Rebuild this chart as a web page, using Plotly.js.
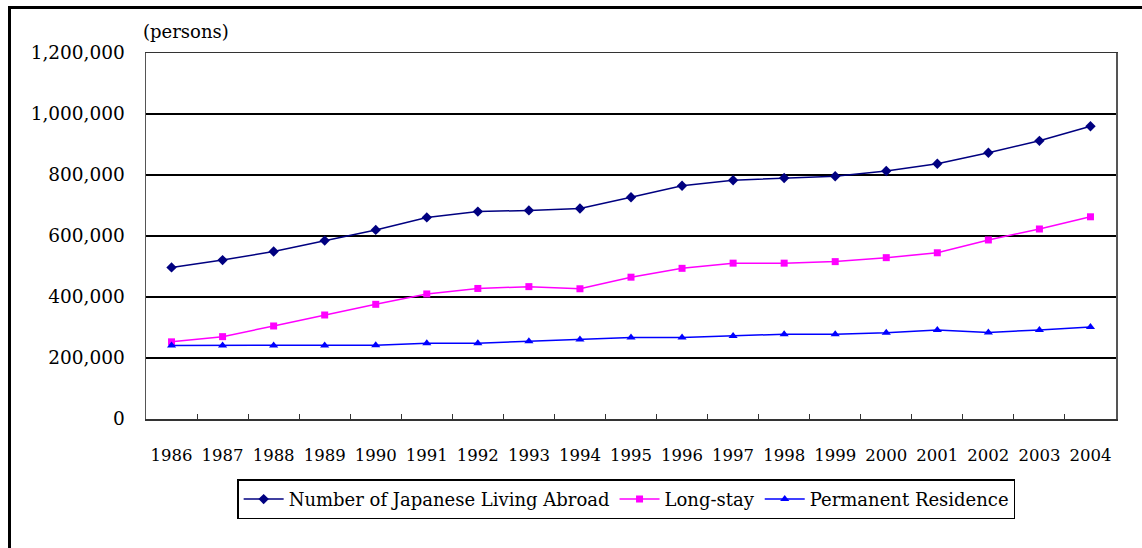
<!DOCTYPE html>
<html>
<head>
<meta charset="utf-8">
<script src="https://cdn.plot.ly/plotly-3.0.1.min.js"></script>
<style>
  html, body { margin: 0; padding: 0; background: #fff; }
  #wrap { position: relative; width: 1142px; height: 548px; overflow: hidden; }
  #chart { width: 1142px; height: 548px; }
  #frame { position: absolute; left: 8px; top: 6px; width: 1200px; height: 600px;
           border-left: 3px solid #000; border-top: 3px solid #000; pointer-events: none; }
</style>
</head>
<body>
<div id="wrap">
  <div id="chart"></div>
  <div id="frame"></div>
</div>
<script>
const years = ["1986","1987","1988","1989","1990","1991","1992","1993","1994","1995",
               "1996","1997","1998","1999","2000","2001","2002","2003","2004"];
const livingAbroad = [497000, 521000, 549000, 585000, 620000, 661000, 680000, 684000, 690000, 727000,
                      765000, 783000, 790000, 796000, 813000, 837000, 873000, 912000, 960000];
const longStay = [253000, 270000, 305000, 341000, 376000, 410000, 428000, 434000, 427000, 465000,
                  494000, 511000, 511000, 516000, 529000, 545000, 587000, 623000, 663000];
const permanent = [241000, 241000, 241000, 241000, 242000, 248000, 248000, 255000, 261000, 267000,
                   267000, 272000, 278000, 278000, 283000, 292000, 284000, 292000, 302000];
const seriesNames = ["Number of Japanese Living Abroad", "Long-stay", "Permanent Residence"];

const serif = "DejaVu Serif, Liberation Serif, serif";

const traces = [
  { x: years, y: livingAbroad, name: seriesNames[0], type: "scatter", mode: "lines+markers",
    line: { color: "#000080", width: 1.5 }, marker: { symbol: "diamond", size: 8, color: "#000080" } },
  { x: years, y: longStay, name: seriesNames[1], type: "scatter", mode: "lines+markers",
    line: { color: "#FF00FF", width: 1.5 }, marker: { symbol: "square", size: 7, color: "#FF00FF" } },
  { x: years, y: permanent, name: seriesNames[2], type: "scatter", mode: "lines+markers",
    line: { color: "#0000FF", width: 1.5 }, marker: { symbol: "triangle-up", size: 8, color: "#0000FF" } }
];

const layout = {
  width: 1142, height: 548,
  margin: { l: 146, r: 26, t: 53, b: 129 },
  paper_bgcolor: "#fff", plot_bgcolor: "#fff",
  font: { family: serif, size: 15, color: "#000" },
  showlegend: true,
  legend: {
    orientation: "h", x: 0.495, xanchor: "center", y: -0.165, yanchor: "top",
    bordercolor: "#000", borderwidth: 1.5, font: { family: serif, size: 18, color: "#000" },
    itemwidth: 40, tracegroupgap: 0
  },
  xaxis: {
    type: "category", showgrid: false, showline: true, linecolor: "#333", linewidth: 1.5,
    mirror: true, ticks: "inside", ticklen: 5, tickcolor: "#333", tickson: "boundaries",
    ticklabelstandoff: 21, tickfont: { family: serif, size: 16.5, color: "#000" },
    range: [-0.5, 18.5], fixedrange: true
  },
  yaxis: {
    range: [0, 1200000], dtick: 200000, tickformat: ",", showgrid: true, gridcolor: "#000",
    gridwidth: 1.2, showline: true, linecolor: "#555", linewidth: 1.5, mirror: true,
    ticks: "", ticklabelstandoff: 16, zeroline: false,
    tickfont: { family: serif, size: 18.5, color: "#000" }, fixedrange: true
  },
  annotations: [
    { text: "(persons)", xref: "paper", yref: "paper", x: -0.005, y: 1.025, xanchor: "left", yanchor: "bottom",
      showarrow: false, font: { family: serif, size: 18, color: "#000" } }
  ]
};

Plotly.newPlot("chart", traces, layout, { displayModeBar: false, staticPlot: true });
</script>
</body>
</html>
